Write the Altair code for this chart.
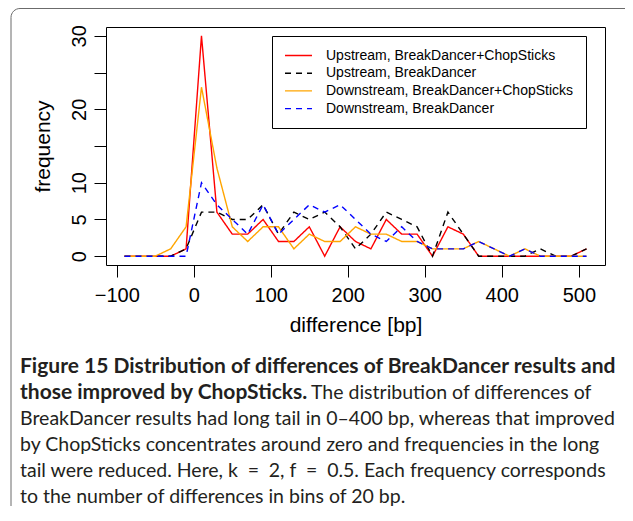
import altair as alt
import pandas as pd

# ---- data ----
diff_bp = [-90, -70, -50, -30, -10, 10, 30, 50, 70, 90, 110, 130, 150, 170, 190,
           210, 230, 250, 270, 290, 310, 330, 350, 370, 390, 410, 430, 450, 470, 490, 510]
up_bd_cs = [0, 0, 0, 0, 1, 30, 6, 3, 3, 5, 2, 2, 4, 0, 4,
            2, 1, 5, 3, 3, 0, 4, 3, 0, 0, 0, 0, 0, 0, 0, 1]
up_bd = [0, 0, 0, 0, 1, 6, 6, 5, 5, 7, 3, 6, 5, 6, 4,
         1, 3, 6, 5, 4, 0, 6, 3, 0, 0, 0, 0, 1, 0, 0, 1]
down_bd_cs = [0, 0, 0, 1, 4, 23, 12, 4, 2, 4, 4, 1, 3, 2, 2,
              4, 3, 3, 2, 2, 1, 1, 1, 2, 1, 0, 1, 0, 0, 0, 0]
down_bd = [0, 0, 0, 0, 0, 10, 7, 5, 3, 7, 3, 5, 7, 6, 7,
           5, 3, 2, 4, 2, 1, 1, 1, 2, 1, 0, 1, 0, 0, 0, 0]

series_names = ["Upstream, BreakDancer+ChopSticks", "Upstream, BreakDancer",
                "Downstream, BreakDancer+ChopSticks", "Downstream, BreakDancer"]
series_colors = ["#FF0000", "#000000", "#FFA500", "#0000FF"]
series_dash = [[1, 0], [6, 5], [1, 0], [6, 5]]

x_ticks = [-100, 0, 100, 200, 300, 400, 500]
y_ticks = [0, 5, 10, 15, 20, 25, 30]

caption_bold_1 = "Figure 15 Distribution of differences of BreakDancer results and"
caption_bold_2 = "those improved by ChopSticks."
caption_reg_2 = "The distribution of differences of"
caption_lines = [
    "BreakDancer results had long tail in 0\u2013400 bp, whereas that improved",
    "by ChopSticks concentrates around zero and frequencies in the long",
    "tail were reduced. Here, k\u2002=\u20022, f\u2002=\u20020.5. Each frequency corresponds",
    "to the number of differences in bins of 20 bp.",
]

rows = []
for name, vals in zip(series_names, [up_bd_cs, up_bd, down_bd_cs, down_bd]):
    for i, (x, v) in enumerate(zip(diff_bp, vals)):
        rows.append({"diff": x, "freq": v, "series": name, "idx": i})
df = pd.DataFrame(rows)

W, H = 499, 238
OX, OY = 98, 19  # plot origin inside the svg
AXF = "Liberation Sans"
CAPF = "Lato"
CAPS = 19.5
CAPB = 21.0

legend = alt.Legend(
    title=None, orient="none", legendX=166, legendY=9, direction="vertical",
    fillColor="white", strokeColor="black", padding=12,
    symbolType="M-2,0H2", symbolSize=182, symbolStrokeWidth=1.4, symbolOffset=7,
    labelFont=AXF, labelFontSize=14, labelColor="black", labelOffset=20,
    rowPadding=2.7, labelLimit=400,
)

lines = alt.Chart(df).mark_line(strokeWidth=1.4).encode(
    x=alt.X("diff:Q", scale=alt.Scale(domain=[-114, 534], nice=False, zero=False),
            axis=alt.Axis(values=x_ticks, title="difference [bp]", grid=False, domain=False,
                          tickColor="black", tickSize=12, tickWidth=1,
                          labelFont=AXF, labelFontSize=20, labelColor="black",
                          labelPadding=8, labelFlush=False, labelOverlap=False,
                          titleFont=AXF, titleFontSize=21, titleFontWeight="normal",
                          titleColor="black", titleX=W / 2, titleY=60,
                          titleBaseline="middle", titleAlign="center")),
    y=alt.Y("freq:Q", scale=alt.Scale(domain=[-1.2, 31.2], nice=False, zero=False),
            axis=alt.Axis(values=y_ticks, title="frequency", grid=False, domain=False,
                          tickColor="black", tickSize=12, tickWidth=1,
                          labelFont=AXF, labelFontSize=20, labelColor="black",
                          labelAngle=270, labelAlign="center", labelBaseline="bottom",
                          labelPadding=5, labelFlush=False, labelOverlap=False,
                          labelExpr="(datum.value == 15 || datum.value == 25) ? '' : datum.label",
                          titleFont=AXF, titleFontSize=21, titleFontWeight="normal",
                          titleColor="black", titleAngle=270, titleX=-63, titleY=H / 2,
                          titleBaseline="middle", titleAlign="center")),
    color=alt.Color("series:N", scale=alt.Scale(domain=series_names, range=series_colors),
                    legend=legend),
    strokeDash=alt.StrokeDash("series:N", scale=alt.Scale(domain=series_names, range=series_dash),
                              legend=legend),
    detail="series:N",
    order="idx:Q",
)


def txt(s, x_page, y_page, bold=False):
    return alt.Chart(alt.Data(values=[{"t": s}])).mark_text(
        align="left", baseline="alphabetic", font=CAPF, fontSize=CAPB if bold else CAPS,
        fontWeight="bold" if bold else "normal", color="#231f20",
    ).encode(x=alt.value(x_page - 8 - OX), y=alt.value(y_page - 8 - OY), text="t:N")


frame = alt.Chart(alt.Data(values=[{"a": 1}])).mark_rect(
    fillOpacity=0, stroke="#6b6b6b", strokeWidth=1, cornerRadius=9,
).encode(x=alt.value(11 - 8 - OX), x2=alt.value(700), y=alt.value(8.5 - 8 - OY), y2=alt.value(600))

base_y = 373
step = 26
caps = [txt(caption_bold_1, 20, base_y, True),
        txt(caption_bold_2, 20, base_y + step, True),
        txt(caption_reg_2, 311, base_y + step)]
for i, s in enumerate(caption_lines):
    caps.append(txt(s, 20, base_y + step * (i + 2)))

chart = alt.layer(frame, lines, *caps).properties(
    width=W, height=H,
    autosize=alt.AutoSizeParams(type="none"),
    padding={"left": OX, "top": OY, "right": 617 - OX - W, "bottom": 498 - OY - H},
).configure_view(stroke="black", strokeWidth=1)

chart.save("out.html", embed_options={"renderer": "svg", "actions": False})
